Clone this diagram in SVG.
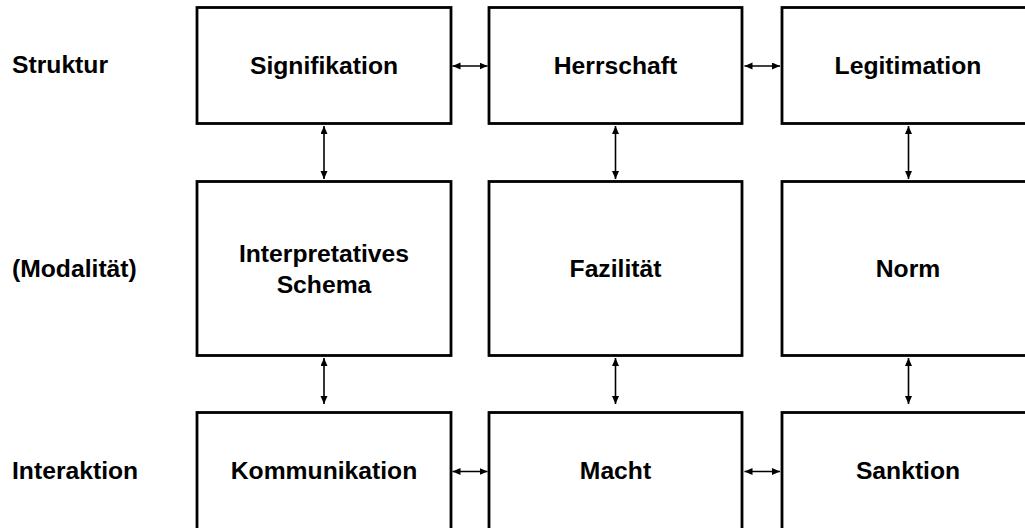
<svg xmlns="http://www.w3.org/2000/svg" width="1025" height="528" viewBox="0 0 1025 528">
<style>
.box{fill:#fff;stroke:#000;stroke-width:2.8}
.t{font-family:"Liberation Sans",Arial,sans-serif;font-weight:bold;font-size:24.7px;fill:#000;text-anchor:middle}
.l{font-family:"Liberation Sans",Arial,sans-serif;font-weight:bold;font-size:24.7px;fill:#000}
.c{stroke:#000;stroke-width:1.6;fill:none;marker-start:url(#ah);marker-end:url(#ah)}
</style>
<defs>
<marker id="ah" markerUnits="userSpaceOnUse" markerWidth="10" markerHeight="8" refX="8" refY="3.5" orient="auto-start-reverse">
<path d="M0,0 L8,3.5 L0,7 z" fill="#000"/>
</marker>
</defs>
<rect width="1025" height="528" fill="#fff"/>
<g id="labels">
<text class="l" x="12" y="73">Struktur</text>
<text class="l" x="12" y="277">(Modalität)</text>
<text class="l" x="12" y="479">Interaktion</text>
</g>
<g id="n-signifikation"><rect class="box" x="197" y="7.5" width="254" height="116"/><text class="t" x="324" y="74">Signifikation</text></g>
<g id="n-herrschaft"><rect class="box" x="489" y="7.5" width="253" height="116"/><text class="t" x="615.5" y="74">Herrschaft</text></g>
<g id="n-legitimation"><rect class="box" x="782" y="7.5" width="254" height="116"/><text class="t" x="908" y="74">Legitimation</text></g>
<g id="n-schema"><rect class="box" x="197" y="181.5" width="254" height="174"/><text class="t" x="324" y="261.5">Interpretatives</text><text class="t" x="324" y="292.5">Schema</text></g>
<g id="n-fazilitaet"><rect class="box" x="489" y="181.5" width="253" height="174"/><text class="t" x="615.5" y="277">Fazilität</text></g>
<g id="n-norm"><rect class="box" x="782" y="181.5" width="254" height="174"/><text class="t" x="908" y="277">Norm</text></g>
<g id="n-kommunikation"><rect class="box" x="197" y="412.5" width="254" height="120"/><text class="t" x="324" y="479">Kommunikation</text></g>
<g id="n-macht"><rect class="box" x="489" y="412.5" width="253" height="120"/><text class="t" x="615.5" y="479">Macht</text></g>
<g id="n-sanktion"><rect class="box" x="782" y="412.5" width="254" height="120"/><text class="t" x="908" y="479">Sanktion</text></g>
<g id="connectors">
<line class="c" x1="452.5" y1="66" x2="487.5" y2="66"/>
<line class="c" x1="744.5" y1="66" x2="780" y2="66"/>
<line class="c" x1="452.5" y1="471.5" x2="487.5" y2="471.5"/>
<line class="c" x1="744.5" y1="471.5" x2="780" y2="471.5"/>
<line class="c" x1="324" y1="126" x2="324" y2="179"/>
<line class="c" x1="615.5" y1="126" x2="615.5" y2="179"/>
<line class="c" x1="908.5" y1="126" x2="908.5" y2="179"/>
<line class="c" x1="324" y1="358" x2="324" y2="404"/>
<line class="c" x1="615.5" y1="358" x2="615.5" y2="404"/>
<line class="c" x1="908.5" y1="358" x2="908.5" y2="404"/>
</g>
</svg>
